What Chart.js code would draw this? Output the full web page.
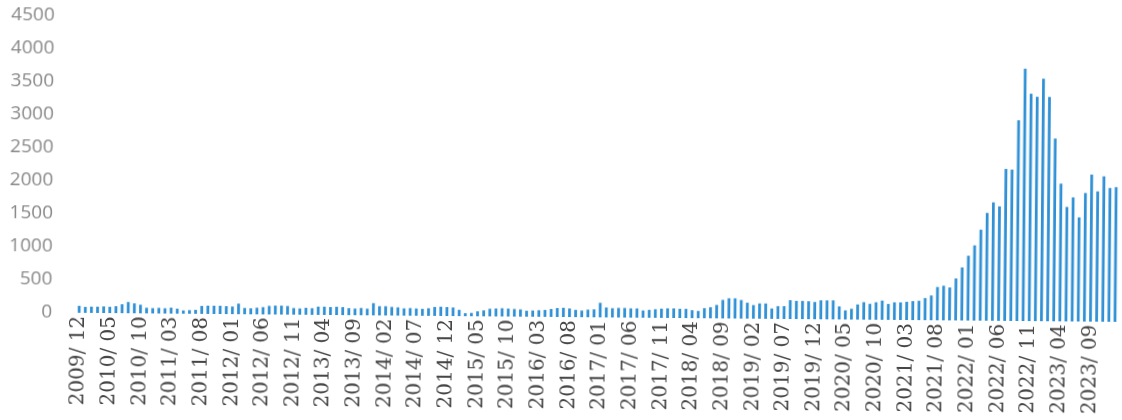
<!DOCTYPE html>
<html>
<head>
<meta charset="utf-8">
<script src="https://cdn.jsdelivr.net/npm/chart.js@4.4.1/dist/chart.umd.min.js"></script>
<style>
  html, body { margin: 0; padding: 0; background: #ffffff; overflow: hidden; }
  #wrap { width: 1122px; height: 420px; transform: rotate(0.5deg); transform-origin: 561px 210px; background: #fff; }
  canvas { display: block; }
</style>
</head>
<body>
<div id="wrap"><canvas id="c" width="1122" height="420"></canvas></div>
<script>
// Monthly values, Dec 2009 .. Jan 2024
const v2009 = [105];
const v2010 = [90, 95, 95, 100, 95, 105, 135, 170, 150, 130, 85, 80];
const v2011 = [85, 80, 90, 75, 50, 55, 60, 120, 125, 125, 125, 120];
const v2012 = [115, 160, 95, 90, 100, 110, 130, 135, 135, 130, 100, 95];
const v2013 = [105, 100, 125, 125, 120, 125, 120, 105, 100, 110, 100, 185];
const v2014 = [140, 140, 130, 125, 110, 115, 110, 105, 115, 135, 140, 135];
const v2015 = [130, 95, 45, 50, 75, 90, 115, 120, 125, 120, 115, 110];
const v2016 = [90, 95, 100, 105, 120, 135, 140, 130, 110, 100, 115, 120];
const v2017 = [220, 150, 140, 145, 145, 140, 140, 110, 120, 130, 140, 145];
const v2018 = [145, 140, 140, 120, 110, 153, 168, 203, 280, 306, 306, 281];
const v2019 = [241, 206, 232, 232, 157, 193, 194, 285, 275, 275, 271, 261];
const v2020 = [287, 287, 288, 198, 138, 163, 229, 265, 240, 265, 291, 241];
const v2021 = [266, 266, 276, 287, 293, 335, 375, 504, 524, 499, 636, 804];
const v2022 = [982, 1140, 1378, 1633, 1794, 1734, 2302, 2293, 3041, 3823, 3445, 3399];
const v2023 = [3674, 3398, 2769, 2086, 1734, 1880, 1578, 1948, 2228, 1974, 2203, 2027];
const v2024 = [2041];

const startYear = 2009, startMonth = 12;
const values = [].concat(v2009, v2010, v2011, v2012, v2013, v2014, v2015, v2016,
                         v2017, v2018, v2019, v2020, v2021, v2022, v2023, v2024);

const categories = [];
for (let i = 0; i < values.length; i++) {
  const m0 = startMonth - 1 + i;
  const y = startYear + Math.floor(m0 / 12);
  const m = (m0 % 12) + 1;
  categories.push(y + '/ ' + String(m).padStart(2, '0'));
}
const labelEvery = 5;
const yTicks = [0, 500, 1000, 1500, 2000, 2500, 3000, 3500, 4000, 4500];

new Chart(document.getElementById('c'), {
  type: 'bar',
  data: {
    labels: categories,
    datasets: [{
      data: values,
      backgroundColor: '#2f90d6',
      borderWidth: 0,
      barPercentage: 0.45,
      categoryPercentage: 1.0
    }]
  },
  options: {
    responsive: false,
    animation: false,
    devicePixelRatio: 1,
    layout: { padding: { top: 20, right: 3, left: 0, bottom: 0 } },
    plugins: { legend: { display: false }, tooltip: { enabled: false } },
    scales: {
      x: {
        offset: true,
        grid: { display: false, drawTicks: false },
        border: { display: false },
        afterFit: (s) => { s.height = 103; },
        ticks: {
          autoSkip: false,
          maxRotation: 90,
          minRotation: 90,
          padding: 3,
          color: '#444444',
          font: { family: '"DejaVu Serif", "Liberation Serif", serif', size: 20 },
          callback: function (val, idx) { return idx % labelEvery === 0 ? categories[idx] : null; }
        }
      },
      y: {
        min: 0,
        max: 4500,
        grid: { display: false, drawTicks: false },
        border: { display: false },
        afterFit: (s) => { s.width = 77; s.paddingTop = 0; s.paddingBottom = 0; },
        afterBuildTicks: (s) => { s.ticks = yTicks.map(v => ({ value: v })); },
        ticks: {
          padding: 24,
          color: '#888888',
          font: { family: '"Open Sans", sans-serif', size: 19 },
          callback: (v) => String(v)
        }
      }
    }
  }
});
</script>
</body>
</html>
